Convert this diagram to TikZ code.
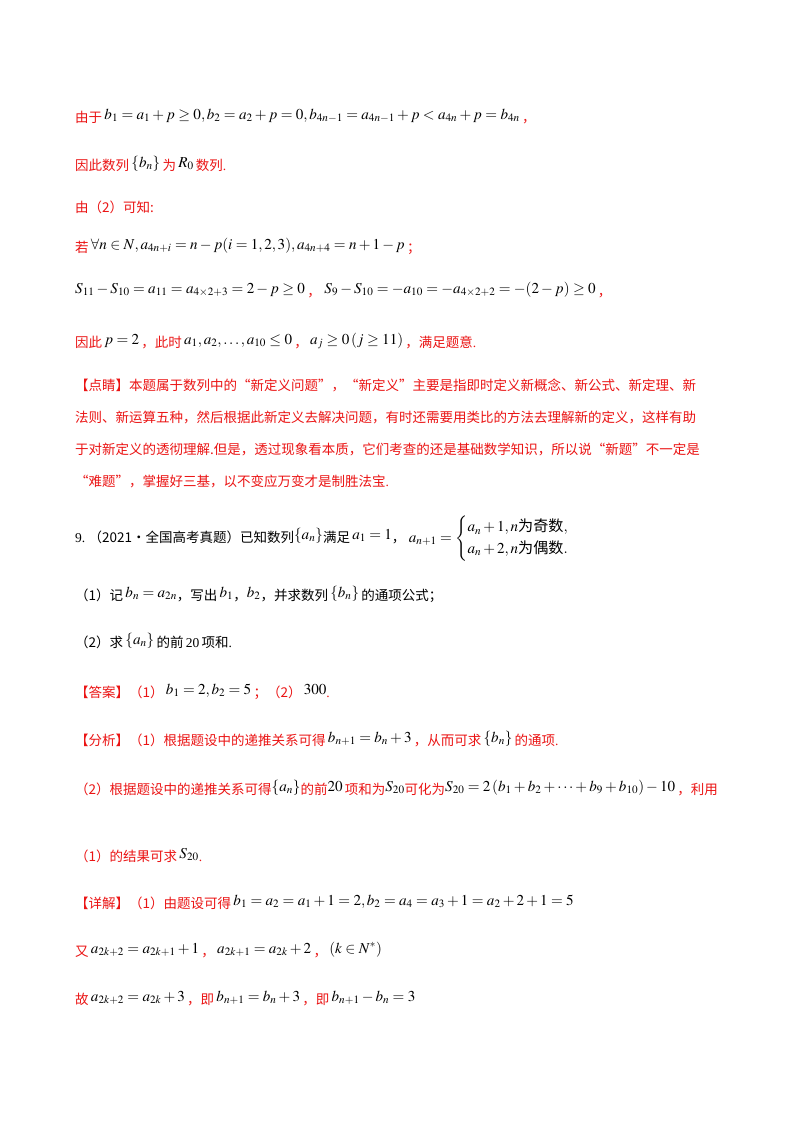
\documentclass[tikz,border=0pt]{standalone}
\usepackage{amsmath}
\usepackage{mathptmx}
\usepackage{fontspec}
\setmainfont{Liberation Serif}
\newfontfamily\cjk{Noto Sans CJK SC}
\newcommand{\C}[1]{{\cjk #1}}
\newcommand{\M}[1]{{\color{black}\raisebox{3pt}{\scalebox{1.12}{$#1$}}}}
\definecolor{rd}{RGB}{235,20,20}
\begin{document}
\begin{tikzpicture}[x=1pt,y=1pt,
  ln/.style={anchor=base west,inner sep=0pt,font=\fontsize{13.5}{16}\selectfont},
  red/.style={ln,text=rd},blk/.style={ln,text=black}]
\useasboundingbox (0,0) rectangle (800,-1132);
\fill[white] (0,0) rectangle (800,-1132);
\node[red] (l1) at (75,-122) {\C{由于}\,\M{b_1=a_1+p\ge0,b_2=a_2+p=0,b_{4n-1}=a_{4n-1}+p<a_{4n}+p=b_{4n}}\,\C{，}};
\node[red] (l2) at (75,-170) {\C{因此数列}\,\M{\{b_n\}}\,\C{为}\,\M{R_0}\,\C{数列}.};
\node[red] (l3) at (75,-212) {\C{由（2）可知:}};
\node[red] (l4) at (75,-252) {\C{若}\,\M{\forall n\in N,a_{4n+i}=n-p(i=1,2,3),a_{4n+4}=n+1-p}\,\C{；}};
\node[red] (l5) at (75,-296) {\M{S_{11}-S_{10}=a_{11}=a_{4\times2+3}=2-p\ge0}\,\C{，}\;\M{S_9-S_{10}=-a_{10}=-a_{4\times2+2}=-(2-p)\ge0}\,\C{，}};
\node[red] (l6) at (75,-347) {\C{因此}\,\M{p=2}\,\C{，此时}\,\M{a_1,a_2,\dots,a_{10}\le0}\,\C{，}\,\M{a_j\ge0\left(j\ge11\right)}\,\C{，满足题意}.};
\node[red] (l7) at (75,-390) {\C{【点睛】本题属于数列中的“新定义问题”，“新定义”主要是指即时定义新概念、新公式、新定理、新}};
\node[red] (l8) at (75,-422) {\C{法则、新运算五种，然后根据此新定义去解决问题，有时还需要用类比的方法去理解新的定义，这样有助}};
\node[red] (l9) at (75,-454) {\C{于对新定义的透彻理解.但是，透过现象看本质，它们考查的还是基础数学知识，所以说“新题”不一定是}};
\node[red] (l10) at (75,-486) {\C{“难题”，掌握好三基，以不变应万变才是制胜法宝}.};
\node[blk] (l11) at (75,-542) {9.\ \C{（2021·全国高考真题）已知数列}\M{\{a_n\}}\C{满足}\,\M{a_1=1}\C{，}\ \scalebox{1.12}{$a_{n+1}=\begin{cases}a_n+1,n\text{\C{为奇数}},\\ a_n+2,n\text{\C{为偶数}}.\end{cases}$}};
\node[blk] (l12) at (75,-600) {\C{（1）记}\,\M{b_n=a_{2n}}\C{，写出}\,\M{b_1}\C{，}\M{b_2}\C{，并求数列}\,\M{\{b_n\}}\,\C{的通项公式；}};
\node[blk] (l13) at (75,-647) {\C{（2）求}\,\M{\{a_n\}}\,\C{的前}\,20\,\C{项和}.};
\node[red] (l14) at (75,-697) {\C{【答案】（1）}\,\M{b_1=2,b_2=5}\,\C{；（2）}\,\M{300}.};
\node[red] (l15) at (75,-745) {\C{【分析】（1）根据题设中的递推关系可得}\,\M{b_{n+1}=b_n+3}\,\C{，从而可求}\,\M{\{b_n\}}\,\C{的通项}.};
\node[red] (l16) at (75,-794) {\C{（2）根据题设中的递推关系可得}\M{\{a_n\}}\C{的前}\M{20}\,\C{项和为}\M{S_{20}}\C{可化为}\M{S_{20}=2\left(b_1+b_2+\cdots+b_9+b_{10}\right)-10}\,\C{，利用}};
\node[red] (l17) at (75,-861) {\C{（1）的结果可求}\,\M{S_{20}}.};
\node[red] (l18) at (75,-908) {\C{【详解】（1）由题设可得}\,\M{b_1=a_2=a_1+1=2,b_2=a_4=a_3+1=a_2+2+1=5}};
\node[red] (l19) at (75,-956) {\C{又}\,\M{a_{2k+2}=a_{2k+1}+1}\,\C{，}\,\M{a_{2k+1}=a_{2k}+2}\,\C{，}\,\M{(k\in N^*)}};
\node[red] (l20) at (75,-1004) {\C{故}\,\M{a_{2k+2}=a_{2k}+3}\,\C{，即}\,\M{b_{n+1}=b_n+3}\,\C{，即}\,\M{b_{n+1}-b_n=3}};
\end{tikzpicture}
\end{document}
